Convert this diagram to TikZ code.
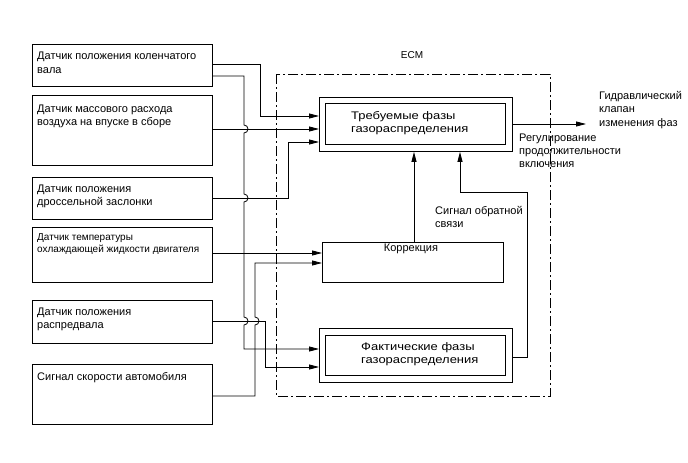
\documentclass[tikz,border=0pt]{standalone}
\usepackage{fontspec}
\setmainfont{Liberation Sans}
\newfontfamily\widefont[FakeStretch=1.18]{Liberation Sans}
\usetikzlibrary{arrows.meta}
\begin{document}
\begin{tikzpicture}[x=1pt,y=-1pt,
  box/.style={draw,line width=0.9pt,rectangle,inner sep=0pt,anchor=north west},
  txt/.style={inner sep=0pt,anchor=north west,align=left,font=\fontsize{11}{13}\selectfont},
  wtxt/.style={txt,font=\widefont\fontsize{11}{13}\selectfont},
  wire/.style={line width=0.8pt},
  arr/.style={wire,-{Triangle[length=10pt,width=5pt]}},
  ecm/.style={line width=0.9pt,dash pattern=on 10pt off 3pt on 2pt off 3pt}]
\useasboundingbox (0,0) rectangle (688,463);
% left sensor boxes
\node[box,minimum width=180pt,minimum height=42pt] (s1) at (32,44) {};
\node[box,minimum width=180pt,minimum height=70pt] (s2) at (32,95) {};
\node[box,minimum width=180pt,minimum height=42pt] (s3) at (32,177) {};
\node[box,minimum width=180pt,minimum height=55pt] (s4) at (32,227) {};
\node[box,minimum width=180pt,minimum height=43pt] (s5) at (32,300) {};
\node[box,minimum width=180pt,minimum height=60pt] (s6) at (32,364) {};
\node[txt,font=\fontsize{11}{14}\selectfont] (t1) at (37,51.5) {Датчик положения коленчатого\\вала};
\node[txt,font=\fontsize{11}{12.5}\selectfont] (t2) at (37,105) {Датчик массового расхода\\воздуха на впуске в сборе};
\node[txt,font=\fontsize{11}{12.7}\selectfont] (t3) at (37,185) {Датчик положения\\дроссельной заслонки};
\node[txt,font=\fontsize{10}{12}\selectfont] (t4) at (37,233) {Датчик температуры\\охлаждающей жидкости двигателя};
\node[txt] (t5) at (37,308) {Датчик положения\\распредвала};
\node[txt] (t6) at (37,372) {Сигнал скорости автомобиля};
% ECM
\draw[ecm] (276,74) rectangle (550,396);
\node[inner sep=0pt,font=\fontsize{10}{13}\selectfont] (ecmlbl) at (412,55) {ECM};
% inner blocks
\node[box,minimum width=193pt,minimum height=54pt] (req) at (319,97) {};
\node[box,minimum width=180pt,minimum height=41pt] (reqin) at (325,103) {};
\node[wtxt] (treq) at (351,111) {Требуемые фазы\\газораспределения};
\node[box,minimum width=181pt,minimum height=40pt] (corr) at (322,242) {};
\node[inner sep=0pt,font=\fontsize{11}{13}\selectfont] (tcorr) at (411,249) {Коррекция};
\node[box,minimum width=193pt,minimum height=54pt] (act) at (319,328) {};
\node[box,minimum width=180pt,minimum height=40pt] (actin) at (325,335) {};
\node[wtxt] (tact) at (361,342) {Фактические фазы\\газораспределения};
% labels
\node[txt,font=\fontsize{11}{13.5}\selectfont] (tvalve) at (599,91) {Гидравлический\\клапан\\изменения фаз};
\node[txt] (tduty) at (519,134) {Регулирование\\продолжительности\\включения};
\node[txt,font=\fontsize{11}{13.5}\selectfont] (tfb) at (435,206) {Сигнал обратной\\связи};
\coordinate (out) at (586,124);
% connectors
\draw[arr] (s1.east |- 0,64) -- (260,64) -- (260,116) -- (req.west |- 0,116);
\draw[arr] (s1.east |- 0,76) -- (244,76) -- (244,125)
   arc[start angle=90,end angle=-90,radius=4pt] -- (244,194)
   arc[start angle=90,end angle=-90,radius=4pt] -- (244,317)
   arc[start angle=90,end angle=-90,radius=4pt] -- (244,349) -- (act.west |- 0,349);
\draw[arr] (s2.east |- 0,129) -- (req.west |- 0,129);
\draw[arr] (s3.east |- 0,198) -- (288,198) -- (288,142) -- (req.west |- 0,142);
\draw[arr] (s4.east |- 0,253) -- (corr.west |- 0,253);
\draw[arr] (s5.east |- 0,321) -- (265,321) -- (265,367) -- (act.west |- 0,367);
\draw[arr] (s6.east |- 0,396) -- (255,396) -- (255,325)
   arc[start angle=-90,end angle=90,radius=4pt] -- (255,263) -- (corr.west |- 0,263);
\draw[arr] (corr.north -| 414,0) -- (req.south -| 414,0);
\draw[arr] (act.east |- 0,357) -- (527,357) -- (527,192) -- (460,192) -- (req.south -| 460,0);
\draw[arr] (req.east |- out) -- (out);
\end{tikzpicture}
\end{document}
